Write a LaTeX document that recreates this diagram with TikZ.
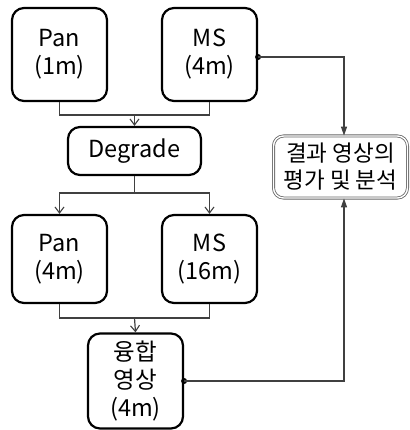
\documentclass[tikz,border=0pt]{standalone}
\usepackage{fontspec}
\setmainfont{Noto Sans CJK KR}
\usetikzlibrary{arrows.meta}
\begin{document}
\begin{tikzpicture}[x=1pt,y=-1pt,
  box/.style={draw=black,line width=2.2pt,rounded corners=12pt,align=center,
    font=\fontsize{23.5}{28}\selectfont,inner sep=0pt},
  conn/.style={draw=black!75,line width=1.2pt},
  opentip/.style={conn,-{Straight Barb[length=6pt,width=9pt,line width=1.1pt]}},
  filltip/.style={conn,-{Triangle[length=9pt,width=6pt]}},
  dotc/.style={circle,fill=black,inner sep=0pt,minimum size=6pt}]
\useasboundingbox (0,0) rectangle (409,430);
\node[box,minimum width=95pt,minimum height=93pt] (pan1) at (59.5,54.5) {Pan\\(1m)};
\node[box,minimum width=95pt,minimum height=93pt] (ms4) at (209.5,54.5) {MS\\(4m)};
\node[box,minimum width=133pt,minimum height=48pt] (deg) at (134.5,151) {Degrade};
\node[box,minimum width=95pt,minimum height=88pt] (pan4) at (59.5,259) {Pan\\(4m)};
\node[box,minimum width=95pt,minimum height=88pt] (ms16) at (209.5,259) {MS\\(16m)};
\node[box,minimum width=95pt,minimum height=95pt] (fus) at (135.5,381) {융합\\영상\\(4m)};
\node[draw=black!60,double=white,double distance=1.4pt,line width=0.8pt,rounded corners=10pt,
  minimum width=134pt,minimum height=62pt,align=center,inner sep=0pt,
  font=\fontsize{22.5}{27}\selectfont] (res) at (340.5,167) {결과 영상의\\평가 및 분석};
\coordinate (j1) at (134.5,115);
\coordinate (j2) at (134.5,193);
\coordinate (j3) at (134.5,318);
\draw[conn] (pan1.south) |- (j1) -| (ms4.south);
\draw[opentip] (j1) -- (deg.north);
\draw[conn] (deg.south) -- (j2);
\draw[opentip] (j2) -| (pan4.north);
\draw[opentip] (j2) -| (ms16.north);
\draw[conn] (pan4.south) |- (j3) -| (ms16.south);
\draw[opentip] (j3) -- (fus.north);
\node[dotc] (d1) at (ms4.east |- 0,57) {};
\node[dotc] (d2) at (fus.east) {};
\coordinate (c1) at (344,57);
\coordinate (c2) at (344,381);
\draw[filltip] (d1.center) -- (c1) -- (c1 |- res.north);
\draw[filltip] (d2.center) -- (c2) -- (c2 |- res.south);
\end{tikzpicture}
\end{document}
